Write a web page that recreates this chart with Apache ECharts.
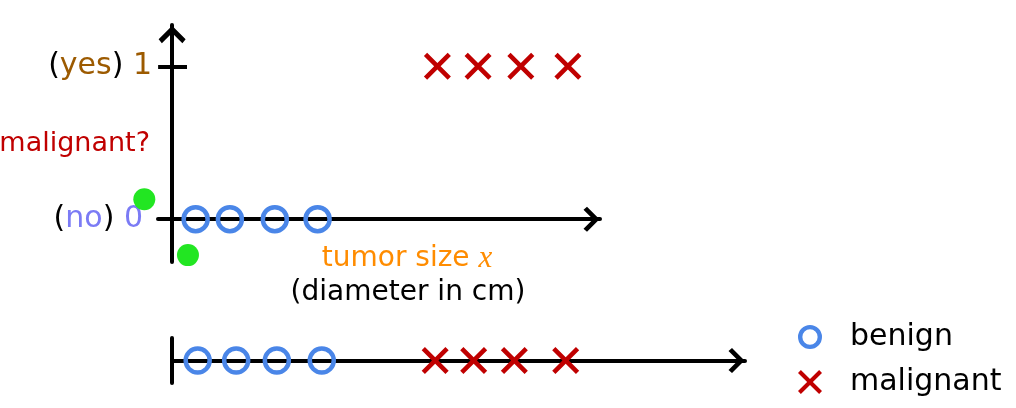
<!DOCTYPE html>
<html>
	<head>
		<meta charset="utf-8">
		<title></title>
		<script src="https://cdn.jsdelivr.net/npm/echarts@6.0.0/dist/echarts.min.js"></script>
		<style>
			body { margin: 0; background: #fff; }
		</style>
	</head>

	<body>
		<div id="main" style="width: 1016px; height: 408px;"></div>
		<script type="text/javascript">
			// tumor size (cm), top plot (class on y) and number line below
			var benignSize = [0.55, 1.35, 2.4, 3.4];
			var malignantSize = [6.2, 7.15, 8.15, 9.25];
			var lineBenignSize = [0.6, 1.5, 2.45, 3.5];
			var lineMalignantSize = [6.15, 7.05, 8.0, 9.2];
			var greenPoints = [[-0.65, 0.13], [0.37, -0.235]];
			var yTicks = [0, 1];

			var font = "'DejaVu Sans', Verdana, sans-serif";
			var blue = '#4a86e8';
			var red = '#c00000';

			var arrow = 'path://M12.5,0 L25,12.5 L22,16 L12.5,6.5 L3,16 L0,12.5 Z';
			var cross = 'path://M0,12 L12,0 L50,38 L88,0 L100,12 L62,50 L100,88 L88,100 L50,62 L12,100 L0,88 L38,50 Z';
			var ring = 'path://M11,0 A11,11 0 1,1 11,22 A11,11 0 1,1 11,0 Z M11,4 A7,7 0 1,0 11,18 A7,7 0 1,0 11,4 Z';

			var myChart = echarts.init(document.getElementById("main"));

			function at(arr, y) {
				return arr.map(function (x) { return [x, y]; });
			}

			var circleStyle = { color: 'rgba(0,0,0,0)', borderColor: blue, borderWidth: 4.5, opacity: 1 };

			option = {
			  animation: false,
			  grid: [
			    { left: 158, top: 25, width: 442, height: 237, outerBoundsMode: 'none', containLabel: false },
			    { left: 172, top: 338, width: 573, height: 45, outerBoundsMode: 'none', containLabel: false }
			  ],
			  xAxis: [
			    {
			      gridIndex: 0, type: 'value', min: -0.33, max: 10,
			      axisLine: { onZero: true, lineStyle: { color: '#000', width: 4 },
			        symbol: ['none', arrow], symbolSize: [25, 17], symbolOffset: [0, -8.5] },
			      axisTick: { show: false }, axisLabel: { show: false }, splitLine: { show: false }
			    },
			    {
			      gridIndex: 1, type: 'value', min: 0, max: 13.39,
			      axisLine: { onZero: true, lineStyle: { color: '#000', width: 4 },
			        symbol: ['none', arrow], symbolSize: [25, 17], symbolOffset: [0, -8.5] },
			      axisTick: { show: false }, axisLabel: { show: false }, splitLine: { show: false }
			    }
			  ],
			  yAxis: [
			    {
			      gridIndex: 0, type: 'value', min: -0.28, max: 1.27, position: 'left',
			      name: 'malignant?', nameLocation: 'middle', nameRotate: 0, nameGap: 8, nameMoveOverlap: false,
			      nameTextStyle: { color: red, fontSize: 27, fontFamily: font },
			      axisLine: { onZero: true, lineStyle: { color: '#000', width: 4 },
			        symbol: ['none', arrow], symbolSize: [27, 19], symbolOffset: [0, -9.5] },
			      axisTick: { show: true, customValues: [1], length: 14, lineStyle: { color: '#000', width: 4 } },
			      axisLabel: {
			        customValues: yTicks, margin: 6,
			        formatter: function (v) {
			          return v === 1 ? '{p|(}{yes|yes}{p|) }{one|1}' : '{p|(}{no|no}{p|) }{zero|0}';
			        },
			        rich: {
			          p: { color: '#000', fontSize: 30, fontFamily: font },
			          yes: { color: '#9c5a00', fontSize: 30, fontFamily: font },
			          one: { color: '#9c5a00', fontSize: 30, fontFamily: font },
			          no: { color: '#7b7bf5', fontSize: 30, fontFamily: font },
			          zero: { color: '#7b7bf5', fontSize: 30, fontFamily: font, padding: [0, 9, 0, 0] }
			        }
			      },
			      splitLine: { show: false }
			    },
			    {
			      // other half of the tick at 1 (inside the grid)
			      gridIndex: 0, type: 'value', min: -0.28, max: 1.27, position: 'left', offset: -14,
			      axisLine: { show: true, onZero: false, lineStyle: { color: 'rgba(0,0,0,0)' } },
			      axisTick: { show: true, inside: true, customValues: [1], length: 15, lineStyle: { color: '#000', width: 4 } },
			      axisLabel: { show: false }, splitLine: { show: false }
			    },
			    {
			      gridIndex: 1, type: 'value', min: -1, max: 1,
			      axisLine: { onZero: true, lineStyle: { color: '#000', width: 4 } },
			      axisTick: { show: false }, axisLabel: { show: false }, splitLine: { show: false }
			    }
			  ],
			  legend: {
			    orient: 'vertical', left: 798, top: 322, padding: 0,
			    itemWidth: 70, itemHeight: 24, itemGap: 15,
			    textStyle: { color: '#000', fontSize: 30, fontFamily: font, lineHeight: 30 },
			    data: [
			      { name: 'benign', icon: ring, itemStyle: { color: blue, borderWidth: 0, opacity: 1 } },
			      { name: 'malignant', icon: cross, itemStyle: { color: red, borderWidth: 0, opacity: 1 } }
			    ]
			  },
			  graphic: [
			    {
			      type: 'text', x: 407, y: 259, silent: true,
			      style: {
			        text: '{a|tumor size }{b|x}', align: 'center', verticalAlign: 'middle',
			        rich: {
			          a: { fill: '#ff8c00', fontSize: 28, fontFamily: font },
			          b: { fill: '#ff8c00', fontSize: 31, fontStyle: 'italic', fontFamily: "'Liberation Serif', serif" }
			        }
			      }
			    },
			    {
			      type: 'text', x: 408, y: 293, silent: true,
			      style: { text: '(diameter in cm)', fill: '#000', font: '28px ' + font, align: 'center', verticalAlign: 'middle' }
			    }
			  ],
			  series: [
			    { name: 'benign', type: 'scatter', xAxisIndex: 0, yAxisIndex: 0, silent: true,
			      symbol: 'circle', symbolSize: 24, itemStyle: circleStyle, data: at(benignSize, 0) },
			    { name: 'malignant', type: 'scatter', xAxisIndex: 0, yAxisIndex: 0, silent: true,
			      symbol: cross, symbolSize: 27, itemStyle: { color: red, opacity: 1 }, data: at(malignantSize, 1) },
			    { name: 'benign', type: 'scatter', xAxisIndex: 1, yAxisIndex: 2, silent: true,
			      symbol: 'circle', symbolSize: 24, itemStyle: circleStyle, data: at(lineBenignSize, 0) },
			    { name: 'malignant', type: 'scatter', xAxisIndex: 1, yAxisIndex: 2, silent: true,
			      symbol: cross, symbolSize: 27, itemStyle: { color: red, opacity: 1 }, data: at(lineMalignantSize, 0) },
			    { name: 'points', type: 'scatter', xAxisIndex: 0, yAxisIndex: 0, silent: true, clip: false,
			      symbol: 'circle', symbolSize: 22, itemStyle: { color: '#22e622', opacity: 1 }, data: greenPoints }
			  ]
			};
			myChart.setOption(option);
		</script>
	</body>
</html>
